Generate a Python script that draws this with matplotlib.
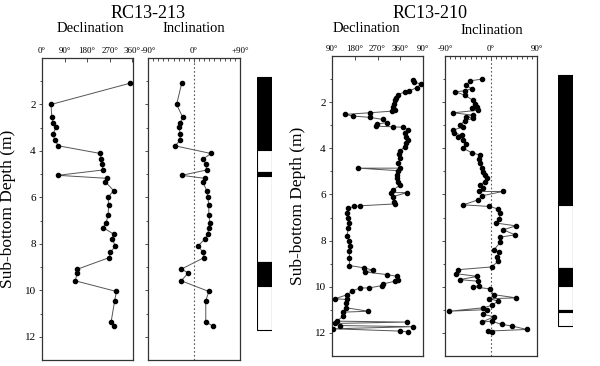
import numpy as np
import matplotlib.pyplot as plt
from matplotlib.ticker import MultipleLocator, FixedLocator

plt.rcParams['font.family'] = ['Liberation Serif', 'DejaVu Serif']

# RC13-213
depth_a = [1.08, 2.0, 2.56, 2.79, 2.99, 3.29, 3.54, 3.78, 4.11, 4.35, 4.57, 4.82, 5.05, 5.18,
           5.33, 5.71, 5.99, 6.33, 6.76, 7.09, 7.3, 7.58, 7.8, 8.09, 8.37, 8.59, 9.09, 9.25,
           9.59, 10.05, 10.45, 11.36, 11.55]
dec_a = [352, 36, 39, 45, 56, 43, 52, 65, 232, 235, 239, 243, 63, 259,
         252, 285, 263, 265, 263, 255, 243, 285, 279, 292, 272, 268, 141, 141,
         132, 296, 289, 275, 288]
inc_a = [-24, -34, -22, -27, -29, -27, -27, -37, 33, 18, 23, 25, -24, 21,
         17, 25, 27, 29, 29, 31, 29, 27, 21, 8, 18, 20, -25, -11,
         -25, 29, 23, 23, 38]
# polarity column (top, bottom, black?)
pol_a = [(0.83, 3.96, 1), (3.96, 4.92, 0), (4.92, 5.07, 1), (5.07, 8.76, 0),
         (8.76, 9.8, 1), (9.8, 11.7, 0)]

# RC13-210
depth_b_dec = [1.05, 1.12, 1.22, 1.37, 1.51, 1.55, 1.67, 1.8, 1.91, 2.06, 2.2, 2.32, 2.39,
               2.46, 2.53, 2.6, 2.66, 2.75, 2.89, 2.95, 3.04, 3.07, 3.09, 3.21, 3.35, 3.52,
               3.64, 3.78, 3.93, 4.1, 4.26, 4.43, 4.65, 4.86, 4.86, 4.97, 5.15, 5.3,
               5.44, 5.59, 5.8, 5.92, 5.92, 6.09, 6.31, 6.41, 6.49, 6.52, 6.59, 6.81, 7.02,
               7.24, 7.46, 7.79, 8.03, 8.25, 8.47, 8.75, 9.08, 9.18, 9.28, 9.36, 9.47, 9.55,
               9.69, 9.76, 9.88, 9.95, 10.05, 10.05, 10.19, 10.34, 10.52, 10.55, 10.7,
               10.91, 11.06, 11.1, 11.27, 11.49, 11.53, 11.59, 11.68, 11.73, 11.82, 11.92, 11.96]
dec_b = [409, 414, 442, 425, 396, 379, 352, 343, 339, 335, 333, 339, 326,
         240, 141, 172, 240, 291, 306, 267, 264, 333, 372, 392, 379, 383,
         392, 383, 379, 359, 356, 359, 352, 359, 194, 352, 348, 348,
         352, 359, 333, 322, 386, 333, 335, 339, 201, 178, 155, 151, 155,
         159, 155, 149, 159, 161, 159, 159, 159, 217, 251, 221, 306, 348,
         352, 339, 291, 288, 236, 201, 168, 151, 102, 149, 146,
         146, 234, 135, 135, 109, 386, 102, 122, 412, 95, 359, 392]
depth_b_inc = [1.0, 1.08, 1.27, 1.41, 1.51, 1.55, 1.7, 1.91, 2.06, 2.2, 2.27, 2.35, 2.46,
               2.56, 2.64, 2.7, 2.81, 2.99, 3.07, 3.21, 3.33, 3.43, 3.52, 3.64, 3.81, 4.0,
               4.19, 4.29, 4.48, 4.65, 4.86, 5.01, 5.15, 5.3, 5.44, 5.59, 5.73, 5.87, 5.87,
               6.06, 6.23, 6.45, 6.52, 6.63, 6.81, 7.07, 7.24, 7.36, 7.53, 7.75, 7.85, 8.08,
               8.39, 8.51, 8.71, 8.9, 9.14, 9.26, 9.43, 9.55, 9.69, 9.76, 9.95, 10.0, 10.09,
               10.34, 10.48, 10.52, 10.62, 10.81, 10.91, 11.06, 10.99, 11.2, 11.3, 11.53,
               11.49, 11.63, 11.7, 11.85, 11.92, 11.96]
inc_b = [-18, -41, -49, -38, -51, -70, -51, -36, -31, -28, -38, -25, -74,
         -36, -48, -35, -51, -61, -54, -74, -72, -57, -64, -54, -48, -54,
         -38, -22, -23, -22, -18, -15, -12, -8, -12, -22, -15, -23, 23,
         -18, -25, -54, -3, 14, 18, 16, 10, 49, 24, 47, 18, 18,
         6, 16, 12, 14, 1, -64, -69, -27, -61, -25, -23, -36, -2,
         5, 49, -3, 14, 1, -15, -82, -8, -15, 6, -18,
         1, 21, 41, 70, -5, 1]
pol_b = [(0.83, 6.45, 1), (6.45, 9.2, 0), (9.2, 9.95, 1), (9.95, 11.0, 0),
         (11.0, 11.1, 1), (11.1, 11.7, 0)]

W, H = 600, 366
fig = plt.figure(figsize=(W / 100, H / 100), dpi=100)


def px_axes(x0, x1, y0, y1):
    return fig.add_axes([x0 / W, 1 - y1 / H, (x1 - x0) / W, (y1 - y0) / H])


def style(ax, labels_y):
    for s in ax.spines.values():
        s.set_color('#333333')
        s.set_linewidth(0.9)
    ax.set_ylim(13, 0)
    ax.xaxis.tick_top()
    ax.yaxis.set_major_locator(FixedLocator([2, 4, 6, 8, 10, 12]))
    ax.yaxis.set_minor_locator(FixedLocator([1, 3, 5, 7, 9, 11]))
    ax.tick_params(axis='x', which='both', direction='in', labelsize=6.5, pad=2,
                   length=3, width=0.6, colors='#333333', labelcolor='black')
    ax.tick_params(axis='x', which='minor', length=1.8)
    ax.tick_params(axis='y', which='both', direction='out', labelsize=8, pad=2,
                   length=2.5, width=0.6, colors='#333333', labelcolor='black',
                   labelleft=labels_y)
    ax.tick_params(axis='y', which='minor', length=1.5)
    ax.tick_params(right=False, bottom=False)


def data_line(ax, x, y):
    ax.plot(x, y, color='#555555', lw=0.7, marker='o', ms=3.0,
            mfc='black', mec='black', zorder=3)


def polarity(ax, segs):
    ax.set_ylim(13, 0)
    ax.set_xlim(0, 1)
    ax.axis('off')
    for top, bot, black in segs:
        ax.bar(0.5, bot - top, bottom=top, width=1.0,
               color='black' if black else 'white', edgecolor='black', lw=0.8)


# ---- RC13-213 ----
ax1 = px_axes(42, 133, 58, 360)
data_line(ax1, dec_a, depth_a)
ax1.set_xlim(0, 362)
ax1.set_xticks([0, 90, 180, 270, 360])
ax1.set_xticklabels(['0°', '90°', '180°', '270°', '360°'])
style(ax1, True)
ax1.set_ylabel('Sub-bottom Depth (m)', fontsize=12.5, labelpad=6)

ax2 = px_axes(148, 240, 58, 360)
ax2.axvline(0, color='#555555', ls=(0, (1.5, 2)), lw=0.8)
data_line(ax2, inc_a, depth_a)
ax2.set_xlim(-90, 90)
ax2.set_xticks([-90, 0, 90])
ax2.set_xticklabels(['-90°', '0°', '+90°'])
ax2.xaxis.set_minor_locator(MultipleLocator(10))
style(ax2, False)

ax3 = px_axes(257, 272, 58, 360)
polarity(ax3, pol_a)

fig.text(148 / W, 1 - 13 / H, 'RC13-213', ha='center', va='center', fontsize=13)
fig.text(90 / W, 1 - 29 / H, 'Declination', ha='center', va='center', fontsize=10.5)
fig.text(194 / W, 1 - 29 / H, 'Inclination', ha='center', va='center', fontsize=10.5)

# ---- RC13-210 ----
ax4 = px_axes(332, 423, 56, 356)
data_line(ax4, dec_b, depth_b_dec)
ax4.set_xlim(90, 450)
ax4.set_xticks([90, 180, 270, 360, 450])
ax4.set_xticklabels(['90°', '180°', '270°', '360°', '90°'])
style(ax4, True)
ax4.set_ylabel('Sub-bottom Depth (m)', fontsize=12.5, labelpad=6)

ax5 = px_axes(445, 537, 56, 356)
ax5.axvline(0, color='#555555', ls=(0, (1.5, 2)), lw=0.8)
data_line(ax5, inc_b, depth_b_inc)
ax5.set_xlim(-90, 90)
ax5.set_xticks([-90, 0, 90])
ax5.set_xticklabels(['-90°', '0°', '90°'])
ax5.xaxis.set_minor_locator(MultipleLocator(10))
style(ax5, False)

ax6 = px_axes(558, 573, 56, 356)
polarity(ax6, pol_b)

fig.text(430 / W, 1 - 13 / H, 'RC13-210', ha='center', va='center', fontsize=13)
fig.text(366 / W, 1 - 29 / H, 'Declination', ha='center', va='center', fontsize=10.5)
fig.text(492 / W, 1 - 30 / H, 'Inclination', ha='center', va='center', fontsize=10.5)

fig.savefig('out.png', dpi=100, facecolor='white')
